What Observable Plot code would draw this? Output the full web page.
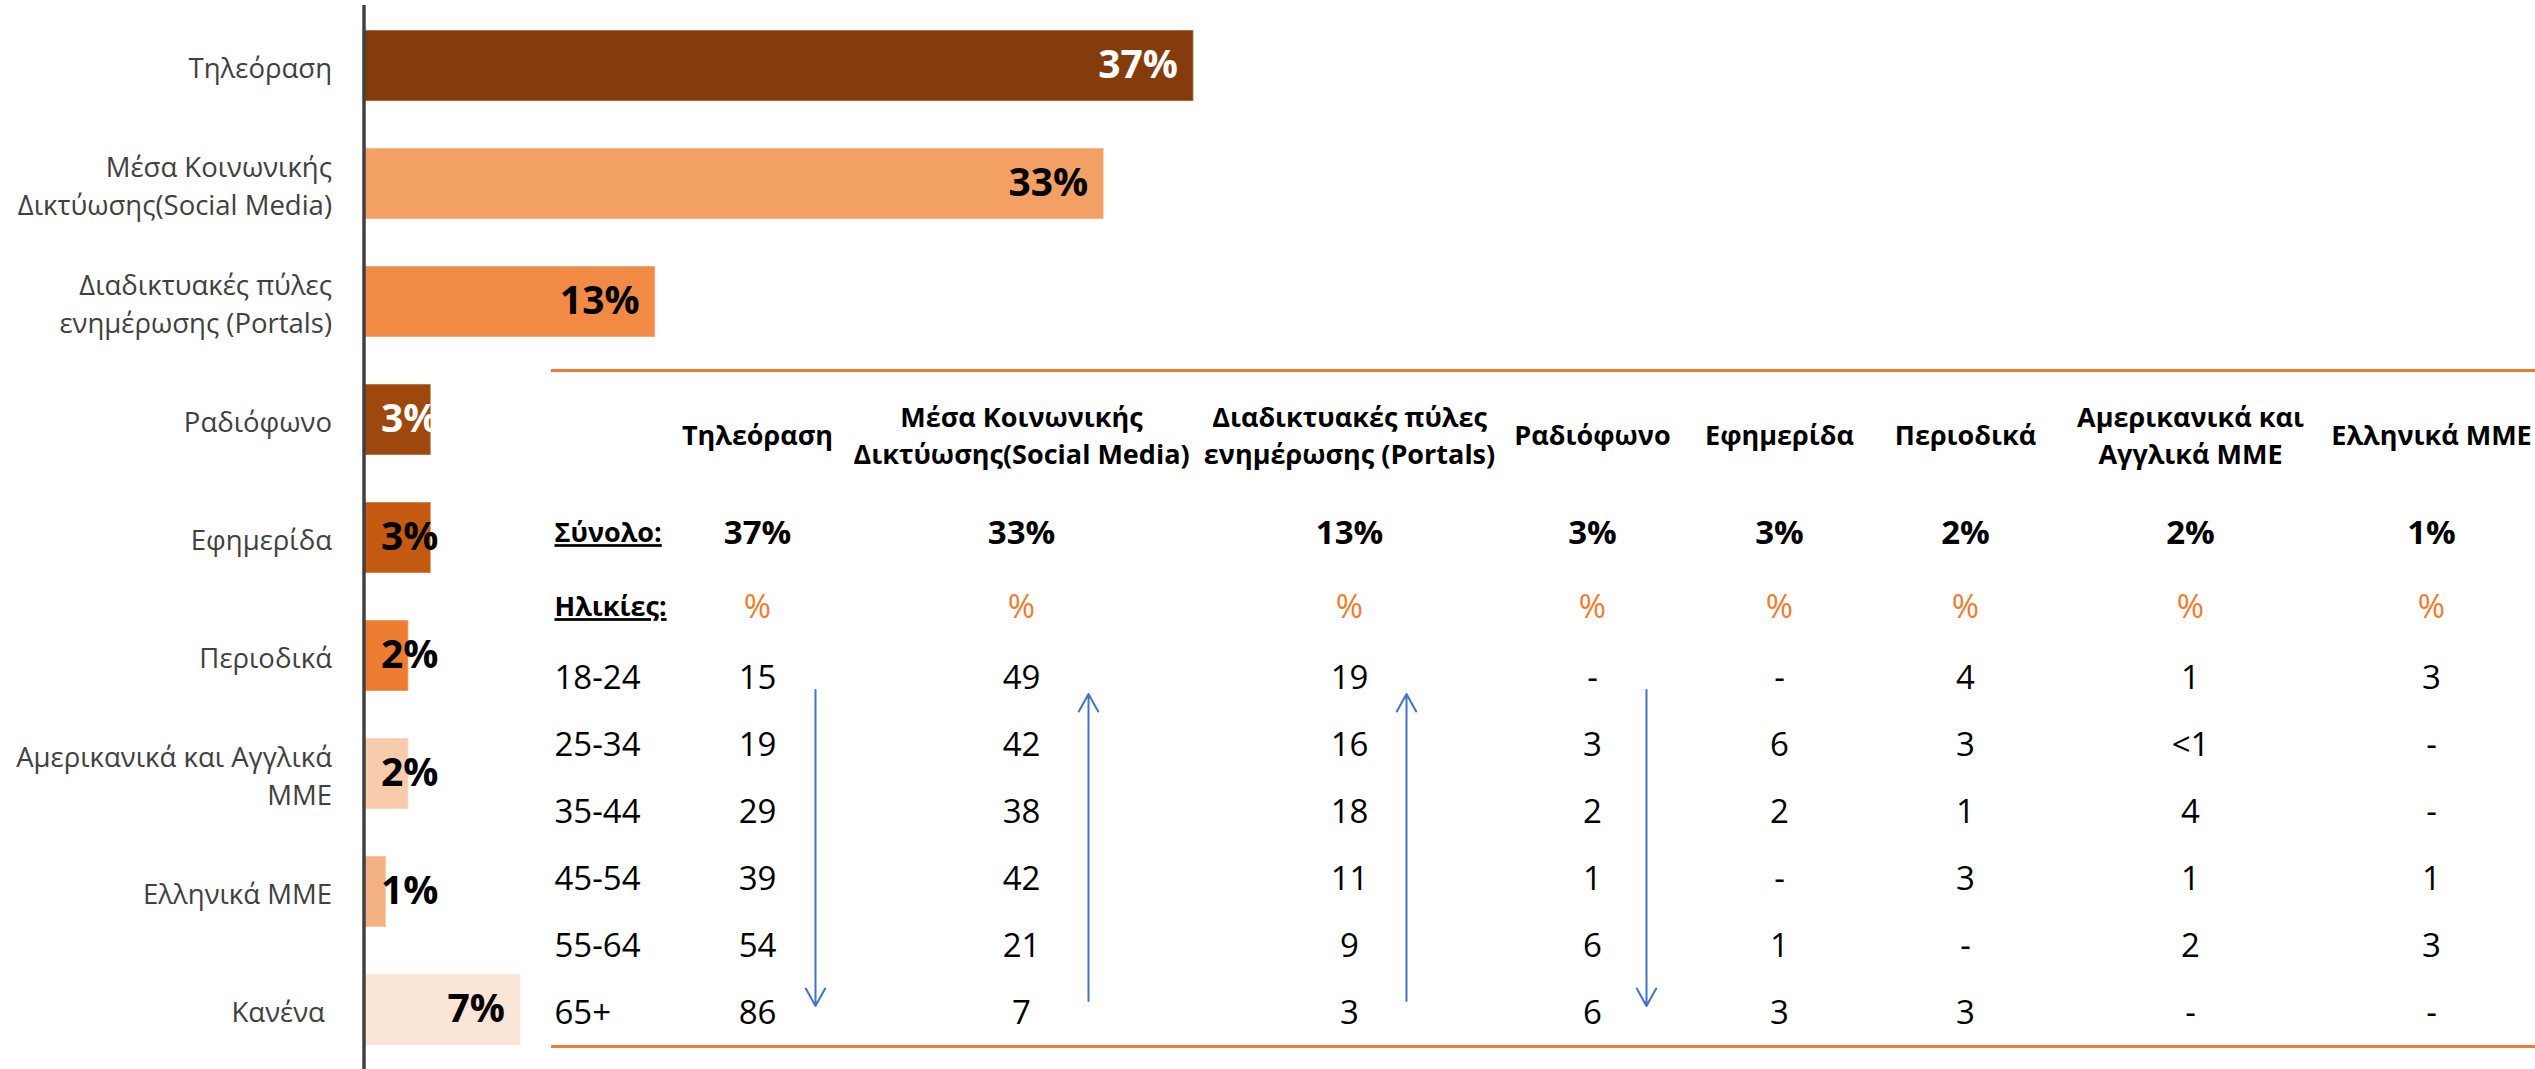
<!DOCTYPE html>
<html>
<head>
<meta charset="utf-8">
<script src="https://cdn.jsdelivr.net/npm/d3@7"></script>
<script src="https://cdn.jsdelivr.net/npm/@observablehq/plot@0.6"></script>
<style>
  html, body { margin: 0; padding: 0; background: #ffffff; }
  #chart { position: relative; width: 2535px; height: 1069px; font-family: "Open Sans", sans-serif; }
  #chart svg { position: absolute; left: 0; top: 0; background: transparent !important; max-width: none !important; }
</style>
</head>
<body>
<div id="chart"></div>
<script>
// ---------- DATA ----------
const categories = [
  "Τηλεόραση",
  "Μέσα Κοινωνικής\nΔικτύωσης(Social Media)",
  "Διαδικτυακές πύλες\nενημέρωσης (Portals)",
  "Ραδιόφωνο",
  "Εφημερίδα",
  "Περιοδικά",
  "Αμερικανικά και Αγγλικά\nΜΜΕ",
  "Ελληνικά ΜΜΕ",
  "Κανένα\u00a0"
];
const shares = [37, 33, 13, 3, 3, 2, 2, 1, 7];

const tableHeaders = [
  "Τηλεόραση",
  "Μέσα Κοινωνικής\nΔικτύωσης(Social Media)",
  "Διαδικτυακές πύλες\nενημέρωσης (Portals)",
  "Ραδιόφωνο",
  "Εφημερίδα",
  "Περιοδικά",
  "Αμερικανικά και\nΑγγλικά ΜΜΕ",
  "Ελληνικά ΜΜΕ"
];
const tableTotals = ["37%", "33%", "13%", "3%", "3%", "2%", "2%", "1%"];
const rowHeads = ["Σύνολο:", "Ηλικίες:"];
const ageGroups = ["18-24", "25-34", "35-44", "45-54", "55-64", "65+"];
const ageValues = [
  ["15", "49", "19", "-", "-", "4", "1", "3"],
  ["19", "42", "16", "3", "6", "3", "<1", "-"],
  ["29", "38", "18", "2", "2", "1", "4", "-"],
  ["39", "42", "11", "1", "-", "3", "1", "1"],
  ["54", "21", "9", "6", "1", "-", "2", "3"],
  ["86", "7", "3", "6", "3", "3", "-", "-"]
];
// trend arrows: column, from age group, to age group
const trendArrows = [
  {column: "Τηλεόραση", from: "18-24", to: "65+"},
  {column: "Μέσα Κοινωνικής\nΔικτύωσης(Social Media)", from: "65+", to: "18-24"},
  {column: "Διαδικτυακές πύλες\nενημέρωσης (Portals)", from: "65+", to: "18-24"},
  {column: "Ραδιόφωνο", from: "18-24", to: "65+"}
];

// ---------- STYLE ----------
const barColors = ["#843C0C", "#F2A064", "#F08A45", "#9E480E", "#C55A11", "#ED7D31", "#F8CBAD", "#F4B183", "#FBE5D6"];
const barLabelInk = ["#ffffff", "#000000", "#000000", "#ffffff", "#000000", "#000000", "#000000", "#000000", "#000000"];
const arrowOffsets = [58, 67, 57, 54]; // horizontal offset of each arrow from its column centre
const FONT = "Open Sans";
const W = 2535, H = 1069;

const bars = categories.map((category, i) => ({
  category, value: shares[i], fill: barColors[i], ink: barLabelInk[i]
}));

// ---------- BAR CHART ----------
const pxPerPct = 22.43, axisX = 363.5, xMax = 40;
const main = Plot.plot({
  width: W, height: H,
  marginLeft: axisX, marginRight: W - axisX - xMax * pxPerPct, marginTop: 5, marginBottom: 0,
  style: {fontFamily: FONT, background: "transparent"},
  x: {domain: [0, xMax], axis: null},
  y: {domain: categories, axis: null, paddingInner: 0.4, paddingOuter: 0.175},
  color: {type: "identity"},
  marks: [
    Plot.barX(bars, {x: "value", y: "category", fill: "fill", stroke: "#ffffff", strokeOpacity: 0.35, strokeWidth: 1.5}),
    Plot.ruleX([0], {stroke: "#404040", strokeWidth: 3.5}),
    Plot.text(bars, {x: 0, y: "category", text: "category", textAnchor: "end", dx: -32,
      fontSize: 27.5, fill: "#404040", lineHeight: 1.38, fontFamily: FONT}),
    Plot.text(bars.filter(d => d.value >= 7), {x: "value", y: "category", text: d => d.value + "%",
      textAnchor: "end", dx: -16, fill: "ink", fontWeight: "bold", fontSize: 39, fontFamily: FONT}),
    Plot.text(bars.filter(d => d.value < 7), {x: 0, y: "category", text: d => d.value + "%",
      textAnchor: "start", dx: 17, fill: "ink", fontWeight: "bold", fontSize: 39, fontFamily: FONT})
  ]
});

// ---------- TABLE ----------
const tableLeft = 551, labelColWidth = 106;
const colWidths = [200, 328, 328, 158, 216, 156, 294, 188];
const tableTop = 370;
const rowHeights = {header: 126, total: 74, pct: 74, age: 67};

let acc = tableLeft + labelColWidth;
const colX = new Map(tableHeaders.map((h, i) => { const c = acc + colWidths[i] / 2; acc += colWidths[i]; return [h, c]; }));
const headerY = tableTop + rowHeights.header / 2;
const totalY = tableTop + rowHeights.header + rowHeights.total / 2;
const pctY = tableTop + rowHeights.header + rowHeights.total + rowHeights.pct / 2;
const ageTop = tableTop + rowHeights.header + rowHeights.total + rowHeights.pct;
const ageY = new Map(ageGroups.map((g, i) => [g, ageTop + rowHeights.age * (i + 0.5)]));
const tableBottom = ageTop + rowHeights.age * ageGroups.length;

const headerCells = tableHeaders.map(h => ({col: h, text: h}));
const totalCells = tableHeaders.map((h, i) => ({col: h, text: tableTotals[i]}));
const pctCells = tableHeaders.map(h => ({col: h, text: "%"}));
const ageCells = ageGroups.flatMap((g, r) => tableHeaders.map((h, c) => ({col: h, age: g, text: ageValues[r][c]})));
const rowHeadCells = [{text: rowHeads[0], y: totalY}, {text: rowHeads[1], y: pctY}];
const arrowData = trendArrows.map((d, i) => ({...d, off: arrowOffsets[i]}));

const table = Plot.plot({
  width: W, height: H,
  margin: 0,
  style: {fontFamily: FONT, background: "transparent"},
  x: {type: "linear", domain: [0, W], range: [0, W], axis: null},
  y: {type: "linear", domain: [0, H], range: [0, H], axis: null},
  marks: [
    Plot.ruleY([tableTop, tableBottom], {x1: tableLeft, x2: W, stroke: "#ED7D31", strokeWidth: 3}),
    Plot.text(headerCells, {x: d => colX.get(d.col), y: headerY, text: "text", fontWeight: "bold",
      fontSize: 27, lineHeight: 1.36, fill: "#000", fontFamily: FONT}),
    Plot.text(totalCells, {x: d => colX.get(d.col), y: totalY, text: "text", fontWeight: "bold",
      fontSize: 33, fill: "#000", fontFamily: FONT}),
    Plot.text(pctCells, {x: d => colX.get(d.col), y: pctY, text: "text",
      fontSize: 33, fill: "#ED7D31", fontFamily: FONT}),
    Plot.text(ageCells, {x: d => colX.get(d.col), y: d => ageY.get(d.age), text: "text",
      fontSize: 33, fill: "#000", fontFamily: FONT}),
    Plot.text(rowHeadCells, {x: tableLeft, y: "y", text: "text", textAnchor: "start", dx: 3,
      fontWeight: "bold", fontSize: 27, fill: "#000", fontFamily: FONT}),
    Plot.text(ageGroups, {x: tableLeft, y: d => ageY.get(d), text: d => d, textAnchor: "start", dx: 3,
      fontSize: 33, fill: "#000", fontFamily: FONT}),
    Plot.arrow(arrowData.filter(d => d.from === ageGroups[0]), {
      x: d => colX.get(d.column) + d.off, y1: d => ageY.get(d.from), y2: d => ageY.get(d.to),
      stroke: "#4472C4", strokeWidth: 2, headLength: 15, headAngle: 58, insetStart: 12, insetEnd: 7}),
    Plot.arrow(arrowData.filter(d => d.from !== ageGroups[0]), {
      x: d => colX.get(d.column) + d.off, y1: d => ageY.get(d.from), y2: d => ageY.get(d.to),
      stroke: "#4472C4", strokeWidth: 2, headLength: 15, headAngle: 58, insetStart: 12, insetEnd: 16})
  ]
});

const root = document.getElementById("chart");
root.appendChild(main);
root.appendChild(table);
table.querySelectorAll("text").forEach(t => {
  if (rowHeads.includes(t.textContent)) {
    t.setAttribute("text-decoration", "underline");
    t.style.textDecoration = "underline";
    t.style.textUnderlineOffset = "4px";
    t.style.textDecorationThickness = "2.5px";
  }
});
</script>
</body>
</html>
